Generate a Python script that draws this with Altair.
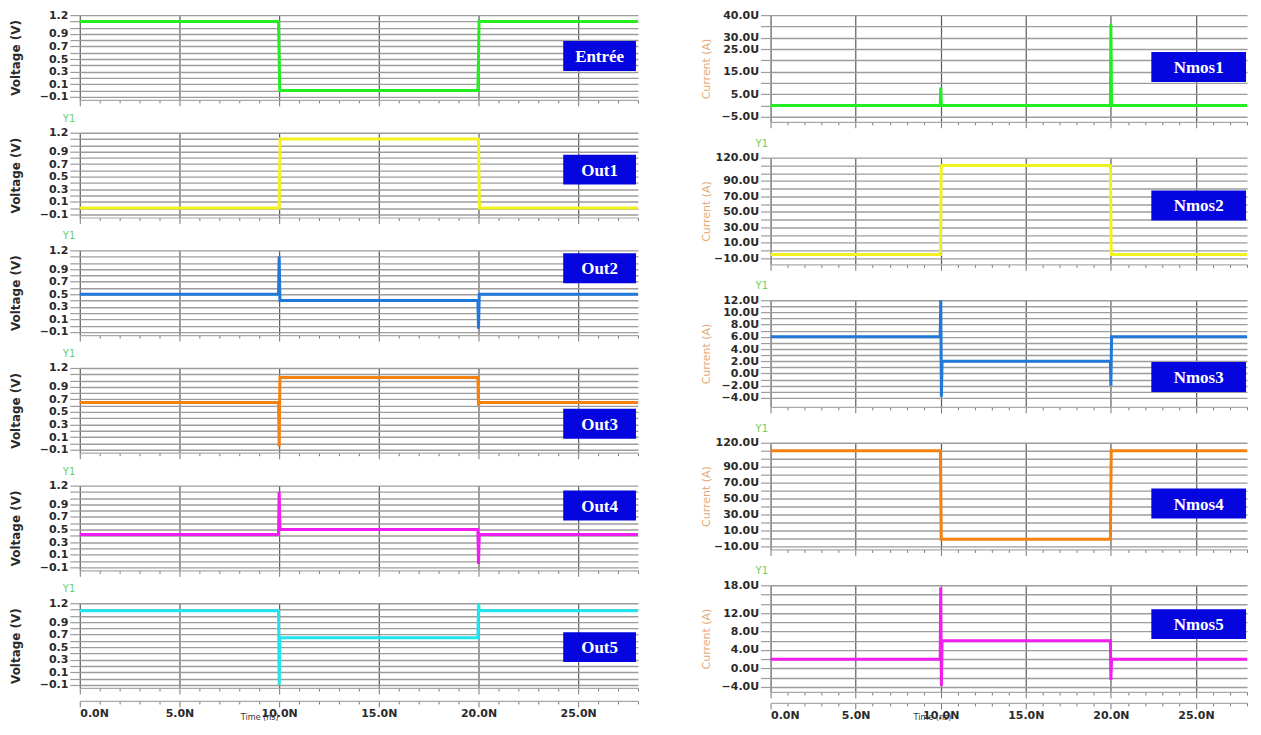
import json
import altair as alt
import pandas as pd

# ---------------- data ----------------
# Left column: voltages (V) vs time (ns)
entree_t = [0, 9.97, 10.03, 19.97, 20.03, 28]
entree_v = [1.1, 1.1, 0.0, 0.0, 1.1, 1.1]

out1_t = [0, 10.0, 10.05, 20.0, 20.05, 28]
out1_v = [0.0, 0.0, 1.1, 1.1, 0.0, 0.0]

out2_t = [0, 9.97, 10.0, 10.04, 10.08, 19.97, 20.0, 20.04, 20.08, 28]
out2_v = [0.5, 0.5, 1.1, 0.4, 0.4, 0.4, -0.05, 0.5, 0.5, 0.5]

out3_t = [0, 9.97, 10.0, 10.04, 10.08, 19.97, 20.0, 20.04, 20.08, 28]
out3_v = [0.65, 0.65, -0.05, 1.05, 1.05, 1.05, 0.6, 0.65, 0.65, 0.65]

out4_t = [0, 9.97, 10.0, 10.04, 10.08, 19.97, 20.0, 20.04, 20.08, 28]
out4_v = [0.42, 0.42, 1.1, 0.5, 0.5, 0.5, -0.05, 0.42, 0.42, 0.42]

out5_t = [0, 9.97, 10.0, 10.04, 10.08, 19.97, 20.0, 20.04, 20.08, 28]
out5_v = [1.08, 1.08, -0.1, 0.65, 0.65, 0.65, 1.2, 1.08, 1.08, 1.08]

# Right column: currents (uA) vs time (ns)
nmos1_t = [0, 9.97, 10.0, 10.04, 19.97, 20.0, 20.04, 28]
nmos1_v = [0, 0, 8, 0, 0, 36, 0, 0]

nmos2_t = [0, 9.98, 10.03, 19.97, 20.02, 28]
nmos2_v = [-5, -5, 110, 110, -5, -5]

nmos3_t = [0, 9.97, 10.0, 10.04, 10.08, 19.97, 20.0, 20.04, 20.08, 28]
nmos3_v = [6, 6, 12, -3.8, 2, 2, -2, 6, 6, 6]

nmos4_t = [0, 9.98, 10.03, 19.97, 20.02, 28]
nmos4_v = [110, 110, -1, -1, 110, 110]

nmos5_t = [0, 9.97, 10.0, 10.04, 10.08, 19.97, 20.0, 20.04, 20.08, 28]
nmos5_v = [2, 2, 17.5, -3.8, 6, 6, -2.5, 2, 2, 2]

# axes: gridline values and labelled values
volt_grid = [1.2, 1.1, 1.0, 0.9, 0.8, 0.7, 0.6, 0.5, 0.4, 0.3, 0.2, 0.1, 0.0, -0.1]
volt_labels = [1.2, 0.9, 0.7, 0.5, 0.3, 0.1, -0.1]

nmos1_grid = [40, 35, 30, 25, 20, 15, 10, 5, 0, -5]
nmos1_labels = [40, 30, 25, 15, 5, -5]
nmos2_grid = [120, 110, 100, 90, 80, 70, 60, 50, 40, 30, 20, 10, 0, -10]
nmos2_labels = [120, 90, 70, 50, 30, 10, -10]
nmos3_grid = [12, 11, 10, 9, 8, 7, 6, 5, 4, 3, 2, 1, 0, -1, -2, -3, -4]
nmos3_labels = [12, 10, 8, 6, 4, 2, 0, -2, -4]
nmos5_grid = [18, 16, 14, 12, 10, 8, 6, 4, 2, 0, -2, -4]
nmos5_labels = [18, 12, 8, 4, 0, -4]

time_ticks = list(range(0, 29))
time_domain = [0, 28]

# ---------------- styling / layout ----------------
LEFT_W, LEFT_H = 560, 85
RIGHT_W, RIGHT_H = 478, 107
BOX_BLUE = "#0505E0"

left_specs = [
    ("Entrée", entree_t, entree_v, "#22EE22", 26),
    ("Out1", out1_t, out1_v, "#F2F21E", 22),
    ("Out2", out2_t, out2_v, "#2078D8", 3),
    ("Out3", out3_t, out3_v, "#F5820F", 41),
    ("Out4", out4_t, out4_v, "#F01EF0", 5),
    ("Out5", out5_t, out5_v, "#1EE6EE", 29),
]
right_specs = [
    ("Nmos1", nmos1_t, nmos1_v, "#22EE22", [-7.2, 40], nmos1_grid, nmos1_labels, 37),
    ("Nmos2", nmos2_t, nmos2_v, "#F2F21E", [-17.7, 120], nmos2_grid, nmos2_labels, 33),
    ("Nmos3", nmos3_t, nmos3_v, "#2078D8", [-5.47, 12], nmos3_grid, nmos3_labels, 62),
    ("Nmos4", nmos4_t, nmos4_v, "#F5820F", [-13.75, 120], nmos2_grid, nmos2_labels, 46),
    ("Nmos5", nmos5_t, nmos5_v, "#F01EF0", [-5.08, 18], nmos5_grid, nmos5_labels, 24),
]

MAJOR = "datum.value % 5 === 0"


def panel(name, t, v, color, width, height, ydomain, ygrid, ylabels, suffix,
          ytitle, ytitle_color, ytitle_weight, ytitle_size, ytitle_x,
          box_x, box_top, box_h, first, bottom, time_title_x, axis_offset,
          time_title_pad, y1_dx):
    df = pd.DataFrame({"t": t, "v": v})
    xscale = alt.Scale(domain=time_domain, nice=False, zero=False)
    yscale = alt.Scale(domain=ydomain, nice=False, zero=False)
    fmt = "format(datum.value, '.1f')" + (" + 'U'" if suffix else "")
    ylabel_expr = "indexof(%s, datum.value) >= 0 ? %s : ''" % (json.dumps(ylabels), fmt)
    yaxis = alt.Axis(
        values=ygrid, labelExpr=ylabel_expr, title=ytitle, grid=True,
        gridColor="#9C9C9C", gridWidth=1.4, domain=False,
        tickSize=10, tickColor="#9C9C9C", tickWidth=1.2, labelPadding=2,
        labelFont="DejaVu Sans", labelFontSize=11, labelFontWeight="bold",
        labelColor="#2A2A2A", labelOverlap=False,
        titleFont="DejaVu Sans", titleFontSize=ytitle_size, titleFontWeight=ytitle_weight,
        titleColor=ytitle_color, titleX=ytitle_x, titleY=height / 2, titleAngle=270,
    )
    xaxis = alt.Axis(
        values=time_ticks, labels=False, title=None, grid=True,
        gridColor="#5A5A5A", gridWidth=1.2,
        gridOpacity={"condition": {"test": MAJOR, "value": 1}, "value": 0},
        domain=True, domainColor="#A8A8A8", domainWidth=1.2,
        tickColor="#777777",
        tickSize={"condition": {"test": MAJOR, "value": 6}, "value": 3},
    )
    line = alt.Chart(df).mark_line(color=color, strokeWidth=3, interpolate="linear").encode(
        x=alt.X("t:Q", scale=xscale, axis=xaxis),
        y=alt.Y("v:Q", scale=yscale, axis=yaxis),
        order="t:Q",
    )
    lab = pd.DataFrame({"name": [name]})
    rect = alt.Chart(lab).mark_rect(color=BOX_BLUE).encode(
        x=alt.value(box_x[0]), x2=alt.value(box_x[1]),
        y=alt.value(box_top), y2=alt.value(box_top + box_h),
    )
    text = alt.Chart(lab).mark_text(
        color="white", font="Liberation Serif", fontWeight="bold", fontSize=17,
        align="center", baseline="middle",
    ).encode(
        text="name:N",
        x=alt.value((box_x[0] + box_x[1]) / 2),
        y=alt.value(box_top + box_h / 2 + 1),
    )
    layers = [line, rect, text]
    if bottom:
        axis2 = alt.Axis(
            orient="bottom", offset=axis_offset, values=time_ticks,
            labelExpr="datum.value % 5 === 0 && datum.value < 28 ? format(datum.value, '.1f') + 'N' : ''",
            labelFont="DejaVu Sans", labelFontSize=11, labelFontWeight="bold",
            labelColor="#2A2A2A", labelPadding=1, labelOverlap=False,
            tickSize={"condition": {"test": MAJOR, "value": 6}, "value": 3},
            tickColor="#777777", domainColor="#A8A8A8", domainWidth=1.2, grid=False,
            title="Time (ns)", titleFont="'DejaVu Sans Condensed', 'Liberation Sans', sans-serif",
            titleFontSize=9,
            titleFontWeight="normal", titleColor="#333333", titleX=time_title_x,
            titlePadding=time_title_pad,
        )
        ax = alt.Chart(df).mark_point(opacity=0, size=1).encode(
            x=alt.X("t:Q", scale=xscale, axis=axis2)
        )
        layers.append(ax)
    ch = alt.layer(*layers).properties(width=width, height=height)
    if bottom:
        ch = ch.resolve_axis(x="independent")
    if not first:
        ch = ch.properties(title=alt.TitleParams(
            "Y1", anchor="start", frame="group", fontSize=10, color="#66D066",
            fontWeight="normal", font="DejaVu Sans", offset=3, dx=y1_dx,
        ))
    return ch


left_panels = []
for i, (name, t, v, color, btop) in enumerate(left_specs):
    left_panels.append(panel(
        name, t, v, color, LEFT_W, LEFT_H, [-0.15, 1.2], volt_grid, volt_labels, False,
        "Voltage (V)", "#2A2A2A", "bold", 12, -57,
        (485, 558), btop, 30, i == 0, i == len(left_specs) - 1, 180, 13, -6, -17,
    ))

right_panels = []
for i, (name, t, v, color, ydom, grid, labels, btop) in enumerate(right_specs):
    right_panels.append(panel(
        name, t, v, color, RIGHT_W, RIGHT_H, ydom, grid, labels, True,
        "Current (A)", "#E8A874", "normal", 11, -59,
        (382, 477), btop, 30, i == 0, i == len(right_specs) - 1, 162, 11, -8, -15,
    ))

left_col = alt.vconcat(*left_panels, spacing=33, bounds="flush")
right_col = alt.vconcat(*right_panels, spacing=36, bounds="flush")

chart = alt.hconcat(left_col, right_col, spacing=57).properties(
    padding={"left": 2, "top": 0, "right": 0, "bottom": 0},
    background="white",
).configure_view(stroke=None)

chart.save("out.html", embed_options={"renderer": "svg", "actions": False})
